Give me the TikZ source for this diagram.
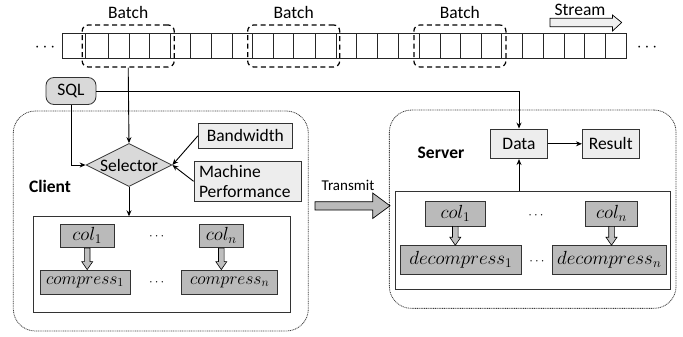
\RequirePackage{fix-cm}
\documentclass[tikz,border=0pt]{standalone}
\usepackage{fontspec}
\setmainfont{Carlito}
\usetikzlibrary{shapes.geometric,arrows.meta,calc}
\newcommand\hollowdown[2]{%
  \path (#1.south) coordinate (ha) (#1.south |- #2.north) coordinate (hb);
  \draw[fill=black!25, line width=0.6pt] ($(ha)+(-2.8,0)$) -- ($(hb)+(-2.8,-8)$) -- ($(hb)+(-5.5,-8)$) -- (hb) -- ($(hb)+(5.5,-8)$) -- ($(hb)+(2.8,-8)$) -- ($(ha)+(2.8,0)$) -- cycle;}
\begin{document}
\begin{tikzpicture}[x=1pt,y=-1pt,
  every node/.style={font=\fontsize{17.5}{20}\selectfont},
  box/.style={draw=black!80, line width=0.8pt, inner sep=0pt},
  lightbox/.style={box, fill=black!7},
  colbox/.style={box, fill=black!27},
  mathbig/.style={font=\fontsize{19}{22}\selectfont},
  arr/.style={-{Stealth[length=6pt,width=5pt]}, line width=0.9pt},
  container/.style={draw=black!75, dash pattern=on 1pt off 0.8pt, line width=0.8pt, rounded corners=22pt, inner sep=0pt},
  batchbox/.style={draw, dash pattern=on 5pt off 3.5pt, line width=1.2pt, rounded corners=6pt, minimum width=92pt, minimum height=42pt, inner sep=0pt},
  smalldots/.style={font=\fontsize{13}{15}\selectfont},
]
\useasboundingbox (0,0) rectangle (683,337);

% stream of cells
\draw[line width=0.8pt, draw=black!85] (62.3,33.3) rectangle (626,58.3);
\foreach \x in {85.7,108.7,129,149.3,170,190,211.3,232.3,252.3,273.3,293.7,315,336.7,356.3,377.3,398.3,419,440,460,481.7,501.7,522.7,543.3,564,584.7,605.3}
  \draw[line width=0.8pt, draw=black!85] (\x,33.3) -- (\x,58.3);

\node[batchbox] (b1) at (128.2,46) {};
\node[batchbox] (b2) at (293.7,46) {};
\node[batchbox] (b3) at (459.9,46) {};
\node (bl1) at (128.2,12.5) {Batch};
\node (bl2) at (293.7,12.5) {Batch};
\node (bl3) at (459.9,12.5) {Batch};

\node (ldots) at (45,47.5) {$\cdots$};
\node (rdots) at (647,47.5) {$\cdots$};

% stream arrow
\draw[fill=black!6, line width=0.7pt] (550,18.3) -- (612.5,18.3) -- (612.5,15) -- (621.7,22.5) -- (612.5,31) -- (612.5,26.7) -- (550,26.7) -- cycle;
\node (stream) at (580,9.5) {Stream};

% containers
\node[container, minimum width=295pt, minimum height=220pt] (client) at (160.8,221) {};
\node[container, minimum width=286.7pt, minimum height=198.3pt] (server) at (532.7,209.2) {};

% client side
\node[box, fill=black!15, rounded corners=8pt, minimum width=50pt, minimum height=27pt] (sql) at (71,91) {SQL};
\node[draw=black!80, line width=0.8pt, fill=black!15, diamond, shape aspect=2, inner sep=0pt, minimum width=86pt, minimum height=43pt] (sel) at (129,165) {Selector};
\node[lightbox, minimum width=94pt, minimum height=25pt] (bw) at (245.3,135.8) {Bandwidth};
\node[lightbox, minimum width=107pt, minimum height=40.7pt, align=left, text width=97pt, inner xsep=5pt] (mp) at (247.5,181.3) {Machine\\Performance};
\node[font=\bfseries\fontsize{17.5}{20}\selectfont] (cl) at (50,186) {Client};

\node[box, minimum width=256.7pt, minimum height=96pt] (cin) at (161.7,264.7) {};
\node[colbox, mathbig, minimum width=54.3pt, minimum height=23.7pt] (c1) at (87.2,235.8) {$col_1$};
\node[colbox, mathbig, minimum width=44pt, minimum height=23.7pt] (cn) at (221.3,235.8) {$col_n$};
\node[colbox, minimum width=90pt, minimum height=24pt] (cc1) at (85,282) {$compress_1$};
\node[colbox, minimum width=96pt, minimum height=24pt] (ccn) at (229.7,282) {$compress_n$};
\node[smalldots] (cd1) at (156.7,237) {$\cdots$};
\node[smalldots] (cd2) at (156.7,283) {$\cdots$};

\draw[arr] (b1.south) -- (sel.north);
\draw[arr] (sql.south) |- (sel.west);
\draw[arr] (bw.west) -- (sel.east);
\draw[arr] (mp.west) -- (sel.east);
\draw[arr] (sel.south) -- (sel.south |- cin.north);
\hollowdown{c1}{cc1}
\hollowdown{cn}{ccn}

% transmit
\node[font=\fontsize{15}{18}\selectfont] (tr) at (348,185) {Transmit};
\draw[fill=black!27, line width=0.7pt] (315,201.7) -- (372.7,201.7) -- (372.7,193) -- (390,205.8) -- (372.7,218.5) -- (372.7,210) -- (315,210) -- cycle;

% server side
\node[font=\bfseries\fontsize{17.5}{20}\selectfont] (sl) at (441,153) {Server};
\node[lightbox, minimum width=56.6pt, minimum height=29.7pt] (data) at (519,143.8) {Data};
\node[lightbox, minimum width=56.7pt, minimum height=29.7pt] (res) at (610.7,143.8) {Result};
\node[box, minimum width=274.7pt, minimum height=97.6pt] (sin) at (532.7,240.5) {};
\node[colbox, mathbig, minimum width=59.3pt, minimum height=24.3pt] (s1) at (455.3,213.8) {$col_1$};
\node[colbox, mathbig, minimum width=51.6pt, minimum height=24.3pt] (sn) at (611.5,213.8) {$col_n$};
\node[colbox, mathbig, minimum width=121.7pt, minimum height=28.3pt] (d1) at (460.8,259.8) {$decompress_1$};
\node[colbox, mathbig, minimum width=113.7pt, minimum height=28.3pt] (dn) at (609.2,259.8) {$decompress_n$};
\node[smalldots] (sd1) at (536,215.5) {$\cdots$};
\node[smalldots] (sd2) at (537,261.5) {$\cdots$};

\draw[arr] (sql.east) -| (data.north);
\draw[arr] (data.east) -- (res.west);
\draw[arr] (data.south |- sin.north) -- (data.south);
\hollowdown{s1}{d1}
\hollowdown{sn}{dn}
\end{tikzpicture}
\end{document}
